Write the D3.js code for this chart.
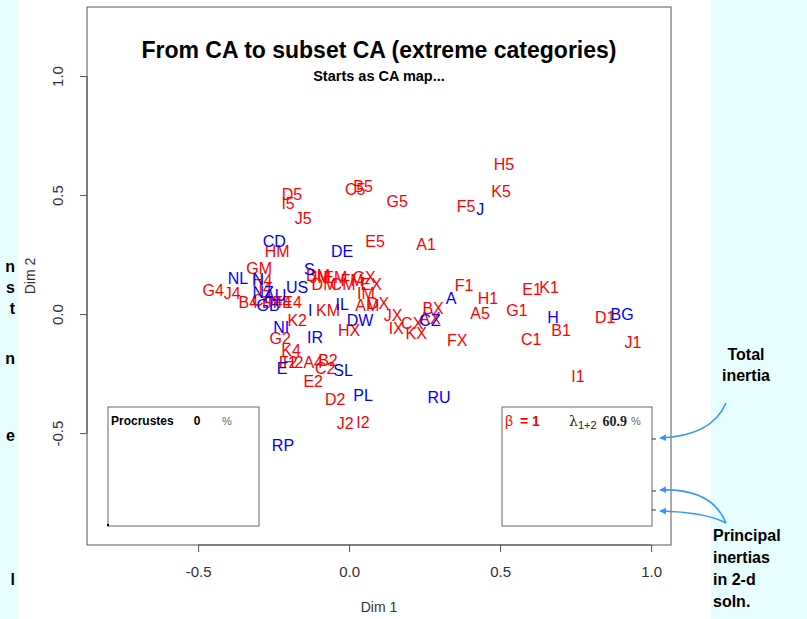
<!DOCTYPE html>
<html>
<head>
<meta charset="utf-8">
<script src="https://cdn.jsdelivr.net/npm/d3@7"></script>
<style>
  html, body { margin: 0; padding: 0; background: #ffffff; }
  svg { display: block; }
  text { font-family: Arial, "Liberation Sans", Helvetica, sans-serif; }
</style>
</head>
<body>
<div id="chart"></div>
<script>
// ---------------- data ----------------
// Column categories (red): label, Dim1, Dim2
const colLabels = ["H5","K5","F5","G5","B5","C5","D5","I5","J5","E5","A5",
  "A1","B1","C1","D1","E1","F1","G1","H1","I1","J1","K1",
  "B2","C2","D2","E2","F2","G2","H2","I2","J2","K2",
  "A4","B4","C4","D4","E4","F4","G4","H4","I4","J4","K4",
  "AM","BM","CM","DM","EM","FM","GM","HM","IM","JM","KM",
  "AX","BX","CX","DX","EX","FX","GX","HX","IX","JX","KX"];
const colDim1 = [0.513,0.503,0.387,0.159,0.046,0.020,-0.189,-0.202,-0.152,0.086,0.434,
  0.255,0.702,0.603,0.848,0.606,0.381,0.556,0.460,0.758,0.940,0.662,
  -0.070,-0.079,-0.046,-0.119,-0.202,-0.228,-0.185,0.046,-0.013,-0.172,
  -0.119,-0.334,-0.288,-0.255,-0.189,-0.222,-0.450,-0.288,-0.278,-0.387,-0.192,
  0.060,-0.103,-0.020,-0.083,-0.046,0.010,-0.298,-0.238,0.056,-0.096,-0.070,
  0.268,0.278,0.209,0.096,0.073,0.358,0.050,0.000,0.156,0.146,0.222];
const colDim2 = [0.630,0.513,0.450,0.471,0.534,0.525,0.504,0.466,0.403,0.303,0.004,
  0.294,-0.067,-0.105,-0.013,0.105,0.118,0.017,0.067,-0.261,-0.118,0.113,
  -0.193,-0.227,-0.357,-0.282,-0.202,-0.101,-0.202,-0.454,-0.458,-0.025,
  -0.202,0.050,0.059,0.050,0.050,0.050,0.097,0.139,0.109,0.088,-0.151,
  0.034,0.164,0.126,0.126,0.155,0.143,0.193,0.265,0.088,0.155,0.017,
  -0.017,0.025,-0.038,0.046,0.126,-0.109,0.155,-0.071,-0.059,-0.004,-0.080];

// Row points (blue countries)
const rowLabels = ["A","AU","BG","CD","CZ","DE","DW","E","GB","H","I","IL","IR","J",
  "N","NI","NL","NZ","PL","RP","RU","S","SL","US"];
const rowDim1 = [0.338,-0.245,0.904,-0.248,0.268,-0.023,0.036,-0.222,-0.268,0.675,-0.129,-0.023,-0.113,0.434,
  -0.301,-0.225,-0.368,-0.285,0.046,-0.219,0.298,-0.132,-0.020,-0.172];
const rowDim2 = [0.067,0.076,0.000,0.307,-0.025,0.261,-0.025,-0.227,0.038,-0.013,0.017,0.042,-0.097,0.441,
  0.147,-0.055,0.151,0.092,-0.340,-0.550,-0.349,0.189,-0.235,0.113];

const xTicks = [-0.5, 0.0, 0.5, 1.0];
const yTicks = [-0.5, 0.0, 0.5, 1.0];
const xDomain = [-0.868, 1.066];
const yDomain = [-0.97, 1.29];

const titleText = "From CA to subset CA (extreme categories)";
const subtitleText = "Starts as CA map...";
const procrustesValue = "0";
const betaValue = "1";
const lambdaValue = "60.9";

// ---------------- drawing ----------------
const W = 807, H = 619;
const svg = d3.select("#chart").append("svg").attr("width", W).attr("height", H);

// side panels (slide background)
svg.append("rect").attr("x", 0).attr("y", 0).attr("width", 18).attr("height", H).attr("fill", "#e8fdfd");
svg.append("rect").attr("x", 711).attr("y", 0).attr("width", W - 711).attr("height", H).attr("fill", "#e8fdfd");

// cut-off slide text on the left
const leftBits = [["n",266],["s",287],["t",308],["n",358],["e",435],["l",579]];
svg.append("g").selectAll("text").data(leftBits).join("text")
  .attr("x", 15).attr("y", d => d[1]).attr("text-anchor", "end")
  .attr("dominant-baseline", "central")
  .attr("font-size", 16).attr("font-weight", "bold").attr("fill", "#000")
  .text(d => d[0]);

const plot = {left: 87, right: 671, top: 7, bottom: 545};
const x = d3.scaleLinear().domain(xDomain).range([plot.left, plot.right]);
const y = d3.scaleLinear().domain(yDomain).range([plot.bottom, plot.top]);

// box
svg.append("rect").attr("x", plot.left).attr("y", plot.top)
  .attr("width", plot.right - plot.left).attr("height", plot.bottom - plot.top)
  .attr("fill", "none").attr("stroke", "#555").attr("stroke-width", 1);

// axes
const fmt = d => d3.format(".1f")(d).replace("−", "-");
const xAxis = d3.axisBottom(x).tickValues(xTicks).tickFormat(fmt).tickSize(7).tickPadding(14);
const gx = svg.append("g").attr("transform", `translate(0,${plot.bottom})`).call(xAxis);
gx.select(".domain").attr("d", `M${x(xTicks[0])},0H${x(xTicks[xTicks.length-1])}`).attr("stroke", "#555");
gx.selectAll(".tick line").attr("stroke", "#555");
gx.selectAll(".tick text").attr("font-size", 15).attr("fill", "#333")
  .attr("font-family", "Arial, 'Liberation Sans', sans-serif");

const yAxis = d3.axisLeft(y).tickValues(yTicks).tickFormat(fmt).tickSize(7);
const gy = svg.append("g").attr("transform", `translate(${plot.left},0)`).call(yAxis);
gy.select(".domain").attr("d", `M0,${y(yTicks[0])}V${y(yTicks[yTicks.length-1])}`).attr("stroke", "#555");
gy.selectAll(".tick line").attr("stroke", "#555");
gy.selectAll(".tick text").remove();
gy.selectAll(".tick").append("text")
  .attr("transform", "translate(-30,0) rotate(-90)")
  .attr("text-anchor", "middle").attr("dominant-baseline", "central")
  .attr("font-size", 15).attr("fill", "#333")
  .attr("font-family", "Arial, 'Liberation Sans', sans-serif")
  .text(fmt);

// axis titles
svg.append("text").attr("x", (plot.left + plot.right) / 2).attr("y", 607)
  .attr("text-anchor", "middle").attr("dominant-baseline", "central")
  .attr("font-size", 14).attr("fill", "#333").text("Dim 1");
svg.append("text").attr("transform", `translate(30,${(plot.top + plot.bottom) / 2}) rotate(-90)`)
  .attr("text-anchor", "middle").attr("dominant-baseline", "central")
  .attr("font-size", 14).attr("fill", "#333").text("Dim 2");

// title
svg.append("text").attr("x", (plot.left + plot.right) / 2).attr("y", 50)
  .attr("text-anchor", "middle").attr("dominant-baseline", "central")
  .attr("font-size", 23).attr("font-weight", "bold").attr("fill", "#000").text(titleText);
svg.append("text").attr("x", (plot.left + plot.right) / 2).attr("y", 76)
  .attr("text-anchor", "middle").attr("dominant-baseline", "central")
  .attr("font-size", 14.5).attr("font-weight", "bold").attr("fill", "#000").text(subtitleText);

// points (labels)
const cols = colLabels.map((l, i) => ({l, x: colDim1[i], y: colDim2[i]}));
const rows = rowLabels.map((l, i) => ({l, x: rowDim1[i], y: rowDim2[i]}));
svg.append("g").selectAll("text").data(cols).join("text")
  .attr("x", d => x(d.x)).attr("y", d => y(d.y))
  .attr("text-anchor", "middle").attr("dominant-baseline", "central")
  .attr("font-size", 16).attr("fill", "#ff0000").text(d => d.l);
svg.append("g").selectAll("text").data(rows).join("text")
  .attr("x", d => x(d.x)).attr("y", d => y(d.y))
  .attr("text-anchor", "middle").attr("dominant-baseline", "central")
  .attr("font-size", 16).attr("fill", "#0000ff").text(d => d.l);

// Procrustes inset
svg.append("rect").attr("x", 108).attr("y", 407).attr("width", 151).attr("height", 119)
  .attr("fill", "#fff").attr("stroke", "#666").attr("stroke-width", 1);
svg.append("circle").attr("cx", 108).attr("cy", 525).attr("r", 1.2).attr("fill", "#000");
svg.append("text").attr("x", 111).attr("y", 421).attr("dominant-baseline", "central")
  .attr("font-size", 12).attr("font-weight", "bold").attr("fill", "#000")
  .attr("font-family", "'Liberation Sans Narrow', Arial, sans-serif").text("Procrustes");
svg.append("text").attr("x", 197).attr("y", 421).attr("text-anchor", "middle").attr("dominant-baseline", "central")
  .attr("font-size", 12).attr("font-weight", "bold").attr("fill", "#000").text(procrustesValue);
svg.append("text").attr("x", 227).attr("y", 421).attr("text-anchor", "middle").attr("dominant-baseline", "central")
  .attr("font-size", 11).attr("fill", "#666").text("%");

// beta / lambda inset
svg.append("rect").attr("x", 502).attr("y", 407).attr("width", 150).attr("height", 119)
  .attr("fill", "#fff").attr("stroke", "#666").attr("stroke-width", 1);
svg.append("text").attr("x", 505).attr("y", 421).attr("dominant-baseline", "central")
  .attr("font-size", 14).attr("fill", "#ff0000")
  .html('β <tspan font-weight="bold" dx="3">= ' + betaValue + '</tspan>');
const lam = svg.append("text").attr("x", 569).attr("y", 421).attr("dominant-baseline", "central")
  .attr("font-size", 14).attr("fill", "#222");
lam.append("tspan").text("λ").attr("font-family", "'DejaVu Serif', serif");
lam.append("tspan").attr("dy", 4).attr("font-size", 11).text("1+2");
lam.append("tspan").attr("dy", -4).attr("dx", 6).attr("font-weight", "bold")
  .attr("font-family", "'Liberation Serif', 'Times New Roman', serif").text(lambdaValue);
lam.append("tspan").attr("dx", 4).attr("font-size", 11).attr("fill", "#666").text("%");

// inertia ticks on right edge of the inset
const inertiaTickY = [439, 491, 510];
svg.append("g").selectAll("line").data(inertiaTickY).join("line")
  .attr("x1", 652).attr("x2", 656).attr("y1", d => d).attr("y2", d => d)
  .attr("stroke", "#333").attr("stroke-width", 1);

// annotation arrows
const defs = svg.append("defs");
defs.append("marker").attr("id", "ah").attr("viewBox", "0 0 10 10")
  .attr("refX", 9).attr("refY", 5).attr("markerWidth", 7).attr("markerHeight", 7)
  .attr("orient", "auto").attr("markerUnits", "userSpaceOnUse")
  .append("path").attr("d", "M0,0L10,5L0,10Z").attr("fill", "#3399ff");
const arrows = [
  "M726,403 Q712,436 660,438",
  "M726,523 Q712,488 660,490",
  "M726,523 Q705,512 660,511"
];
svg.append("g").selectAll("path").data(arrows).join("path")
  .attr("d", d => d).attr("fill", "none").attr("stroke", "#3399ff")
  .attr("stroke-width", 1.6).attr("marker-end", "url(#ah)");

// right-side slide text
svg.append("text").attr("x", 746).attr("y", 354).attr("text-anchor", "middle").attr("dominant-baseline", "central")
  .attr("font-size", 16).attr("font-weight", "bold").attr("fill", "#000").text("Total");
svg.append("text").attr("x", 746).attr("y", 375).attr("text-anchor", "middle").attr("dominant-baseline", "central")
  .attr("font-size", 16).attr("font-weight", "bold").attr("fill", "#000").text("inertia");
const rightLines = [["Principal",535],["inertias",557],["in 2-d",579],["soln.",601]];
svg.append("g").selectAll("text").data(rightLines).join("text")
  .attr("x", 713).attr("y", d => d[1]).attr("dominant-baseline", "central")
  .attr("font-size", 16).attr("font-weight", "bold").attr("fill", "#000").text(d => d[0]);
</script>
</body>
</html>
